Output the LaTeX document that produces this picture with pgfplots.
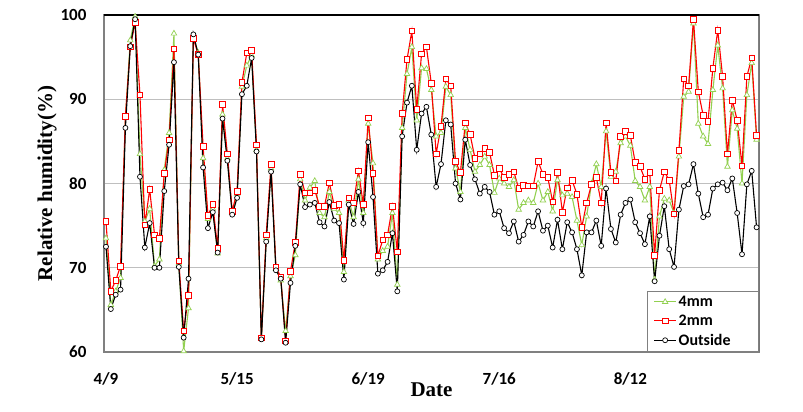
\documentclass[border=0pt]{standalone}
\usepackage{pgfplots}
\usepackage{pgfplotstable}
\pgfplotsset{compat=1.18}
\usepackage{fontspec}
\setmainfont{Liberation Serif}
\newfontfamily\calibri{Carlito}
\definecolor{tgreen}{HTML}{92D050}
\definecolor{gridgray}{HTML}{BFBFBF}

\pgfplotstableread{
i t s o
0 73.5 75.5 72.5
1 65.6 67.2 65.1
2 67.2 68.5 66.8
3 68.8 70.2 67.4
4 87.8 88.0 86.6
5 97.0 96.2 96.3
6 99.8 99.1 99.5
7 83.5 90.5 80.8
8 75.5 75.1 72.4
9 77.0 79.3 75.3
10 70.2 73.9 70.0
11 71.0 73.5 70.0
12 81.6 81.2 79.1
13 86.0 85.2 84.6
14 97.8 96.0 94.4
15 70.5 70.8 70.1
16 60.1 62.5 61.7
17 65.2 66.7 68.7
18 97.5 97.2 97.7
19 95.5 95.3 95.3
20 83.0 84.4 81.9
21 75.8 76.2 74.7
22 77.0 77.5 76.6
23 71.7 72.3 71.8
24 88.2 89.4 87.7
25 83.0 83.5 82.7
26 76.5 76.7 76.3
27 78.8 79.1 78.3
28 91.5 92.0 90.6
29 94.0 95.5 91.6
30 95.2 95.8 94.9
31 84.0 84.6 83.8
32 61.6 61.7 61.5
33 73.5 73.9 73.1
34 81.8 82.3 81.4
35 69.9 70.1 69.7
36 68.5 68.9 68.7
37 62.5 61.3 61.1
38 69.0 69.6 68.2
39 71.5 73.0 72.6
40 80.5 81.1 79.9
41 78.0 78.9 77.2
42 79.5 78.9 77.5
43 80.3 79.2 77.7
44 76.5 77.3 75.4
45 76.0 77.3 74.9
46 79.0 80.1 77.8
47 77.0 77.4 75.6
48 76.5 77.5 75.3
49 69.5 70.9 68.6
50 78.0 78.3 77.5
51 76.0 77.7 75.2
52 80.5 81.5 79.0
53 76.5 77.5 75.3
54 87.1 87.8 84.9
55 82.4 81.2 78.4
56 71.0 71.4 69.3
57 72.0 73.3 69.7
58 72.5 73.9 70.7
59 76.5 77.3 74.1
60 68.0 71.9 67.2
61 86.6 88.3 85.6
62 93.0 94.7 89.6
63 96.2 98.1 91.6
64 87.5 88.8 84.0
65 93.7 95.4 88.3
66 93.6 96.2 89.1
67 91.1 91.9 85.8
68 85.6 83.5 79.6
69 86.0 86.8 82.3
70 91.5 92.4 87.5
71 90.5 91.6 87.0
72 81.8 82.6 80.0
73 79.0 81.3 78.1
74 86.6 87.2 85.2
75 84.0 85.8 82.2
76 81.4 83.0 80.5
77 82.2 83.5 78.8
78 83.2 84.2 79.6
79 82.2 83.7 79.0
80 78.9 81.0 76.3
81 80.6 81.8 76.7
82 80.0 80.7 74.7
83 79.6 81.1 74.1
84 80.4 81.4 75.5
85 76.9 79.4 73.1
86 77.7 79.8 73.9
87 78.0 79.7 75.5
88 77.7 79.7 74.9
89 80.0 82.6 76.7
90 78.0 81.1 74.4
91 79.0 80.7 75.0
92 76.7 77.8 72.4
93 80.4 81.3 75.7
94 78.6 76.6 72.2
95 78.8 79.5 75.4
96 78.4 80.4 74.2
97 75.6 78.7 72.2
98 72.7 74.8 69.1
99 76.1 77.7 74.2
100 80.0 79.9 74.2
101 82.3 80.7 75.6
102 79.6 77.7 72.6
103 86.2 87.2 79.4
104 80.8 81.3 74.6
105 81.4 80.3 73.0
106 84.8 85.6 76.3
107 85.6 86.2 77.7
108 84.5 85.7 78.1
109 80.3 82.5 75.4
110 79.6 82.0 74.1
111 78.0 80.5 72.8
112 79.6 81.3 76.1
113 68.6 71.5 68.4
114 76.1 79.2 73.8
115 78.2 81.4 77.3
116 78.0 80.4 72.2
117 76.5 76.4 70.1
118 83.2 83.9 76.9
119 90.3 92.4 79.7
120 90.9 91.6 79.9
121 99.0 99.5 82.3
122 87.1 90.9 78.8
123 85.6 88.1 76.0
124 84.7 87.4 76.3
125 91.1 93.7 79.4
126 96.4 98.2 79.9
127 91.3 92.7 80.1
128 82.0 83.5 79.2
129 88.7 89.9 80.6
130 86.5 87.5 76.5
131 80.0 82.1 71.6
132 90.5 92.7 79.9
133 94.3 94.9 81.5
134 85.2 85.7 74.8
}\datatable

\begin{document}
\begin{tikzpicture}
\begin{axis}[
  scale only axis, width=655pt, height=337pt,
  xmin=-0.41, xmax=134.5, ymin=60, ymax=100,
  xtick={0,27,54,81,108}, xticklabels={4/9,5/15,6/19,7/16,8/12},
  ytick={60,70,80,90,100},
  ymajorgrids, grid style={gridgray, line width=1.2pt},
  major tick length=0pt,
  axis line style={draw=gray, line width=1.6pt},
  tick label style={font=\calibri\bfseries\fontsize{17}{20}\selectfont},
  /pgf/number format/assume math mode=true,
  yticklabel style={xshift=-14pt},
  xticklabel style={yshift=-17pt},
  ylabel={\bfseries Relative humidity(\%)},
  ylabel style={font=\fontsize{21}{24}\selectfont, at={(axis description cs:-0.087,0.5)}, anchor=center},
  xlabel={\bfseries Date},
  xlabel style={font=\fontsize{21}{24}\selectfont, at={(axis description cs:0.5,0)}, anchor=center, yshift=-38pt},
  legend style={at={(1,0)}, anchor=south east, draw=gray, line width=0.8pt, fill=white,
    font=\calibri\bfseries\fontsize{16}{19}\selectfont, row sep=3pt, inner xsep=6pt, inner ysep=3pt},
  legend cell align=left,
  legend image code/.code={\draw[mark repeat=2,mark phase=2] plot coordinates {(0pt,0pt) (11pt,0pt) (22pt,0pt)};},
  every axis plot/.append style={line width=1.1pt, mark options={fill=white, line width=0.7pt, solid}},
]
\addplot[color=tgreen, mark=triangle*, mark size=3.2pt] table[x=i, y=t] {\datatable};
\addplot[color=red, mark=square*, mark size=2.8pt] table[x=i, y=s] {\datatable};
\addplot[color=black, mark=*, mark size=2.5pt] table[x=i, y=o] {\datatable};
\legend{4mm,2mm,Outside\hspace*{20pt}}
\draw[black, line width=1.6pt] (rel axis cs:0,1) -- (rel axis cs:1,1);
\draw[black!75, line width=0.8pt] (rel axis cs:1,1) -- (rel axis cs:1,0);
\coordinate (sw) at (rel axis cs:0,0);
\coordinate (ne) at (rel axis cs:1,1);
\end{axis}
\pgfresetboundingbox
\path ([shift={(-104pt,-60pt)}]sw) rectangle ([shift={(44pt,15pt)}]ne);
\end{tikzpicture}
\end{document}
